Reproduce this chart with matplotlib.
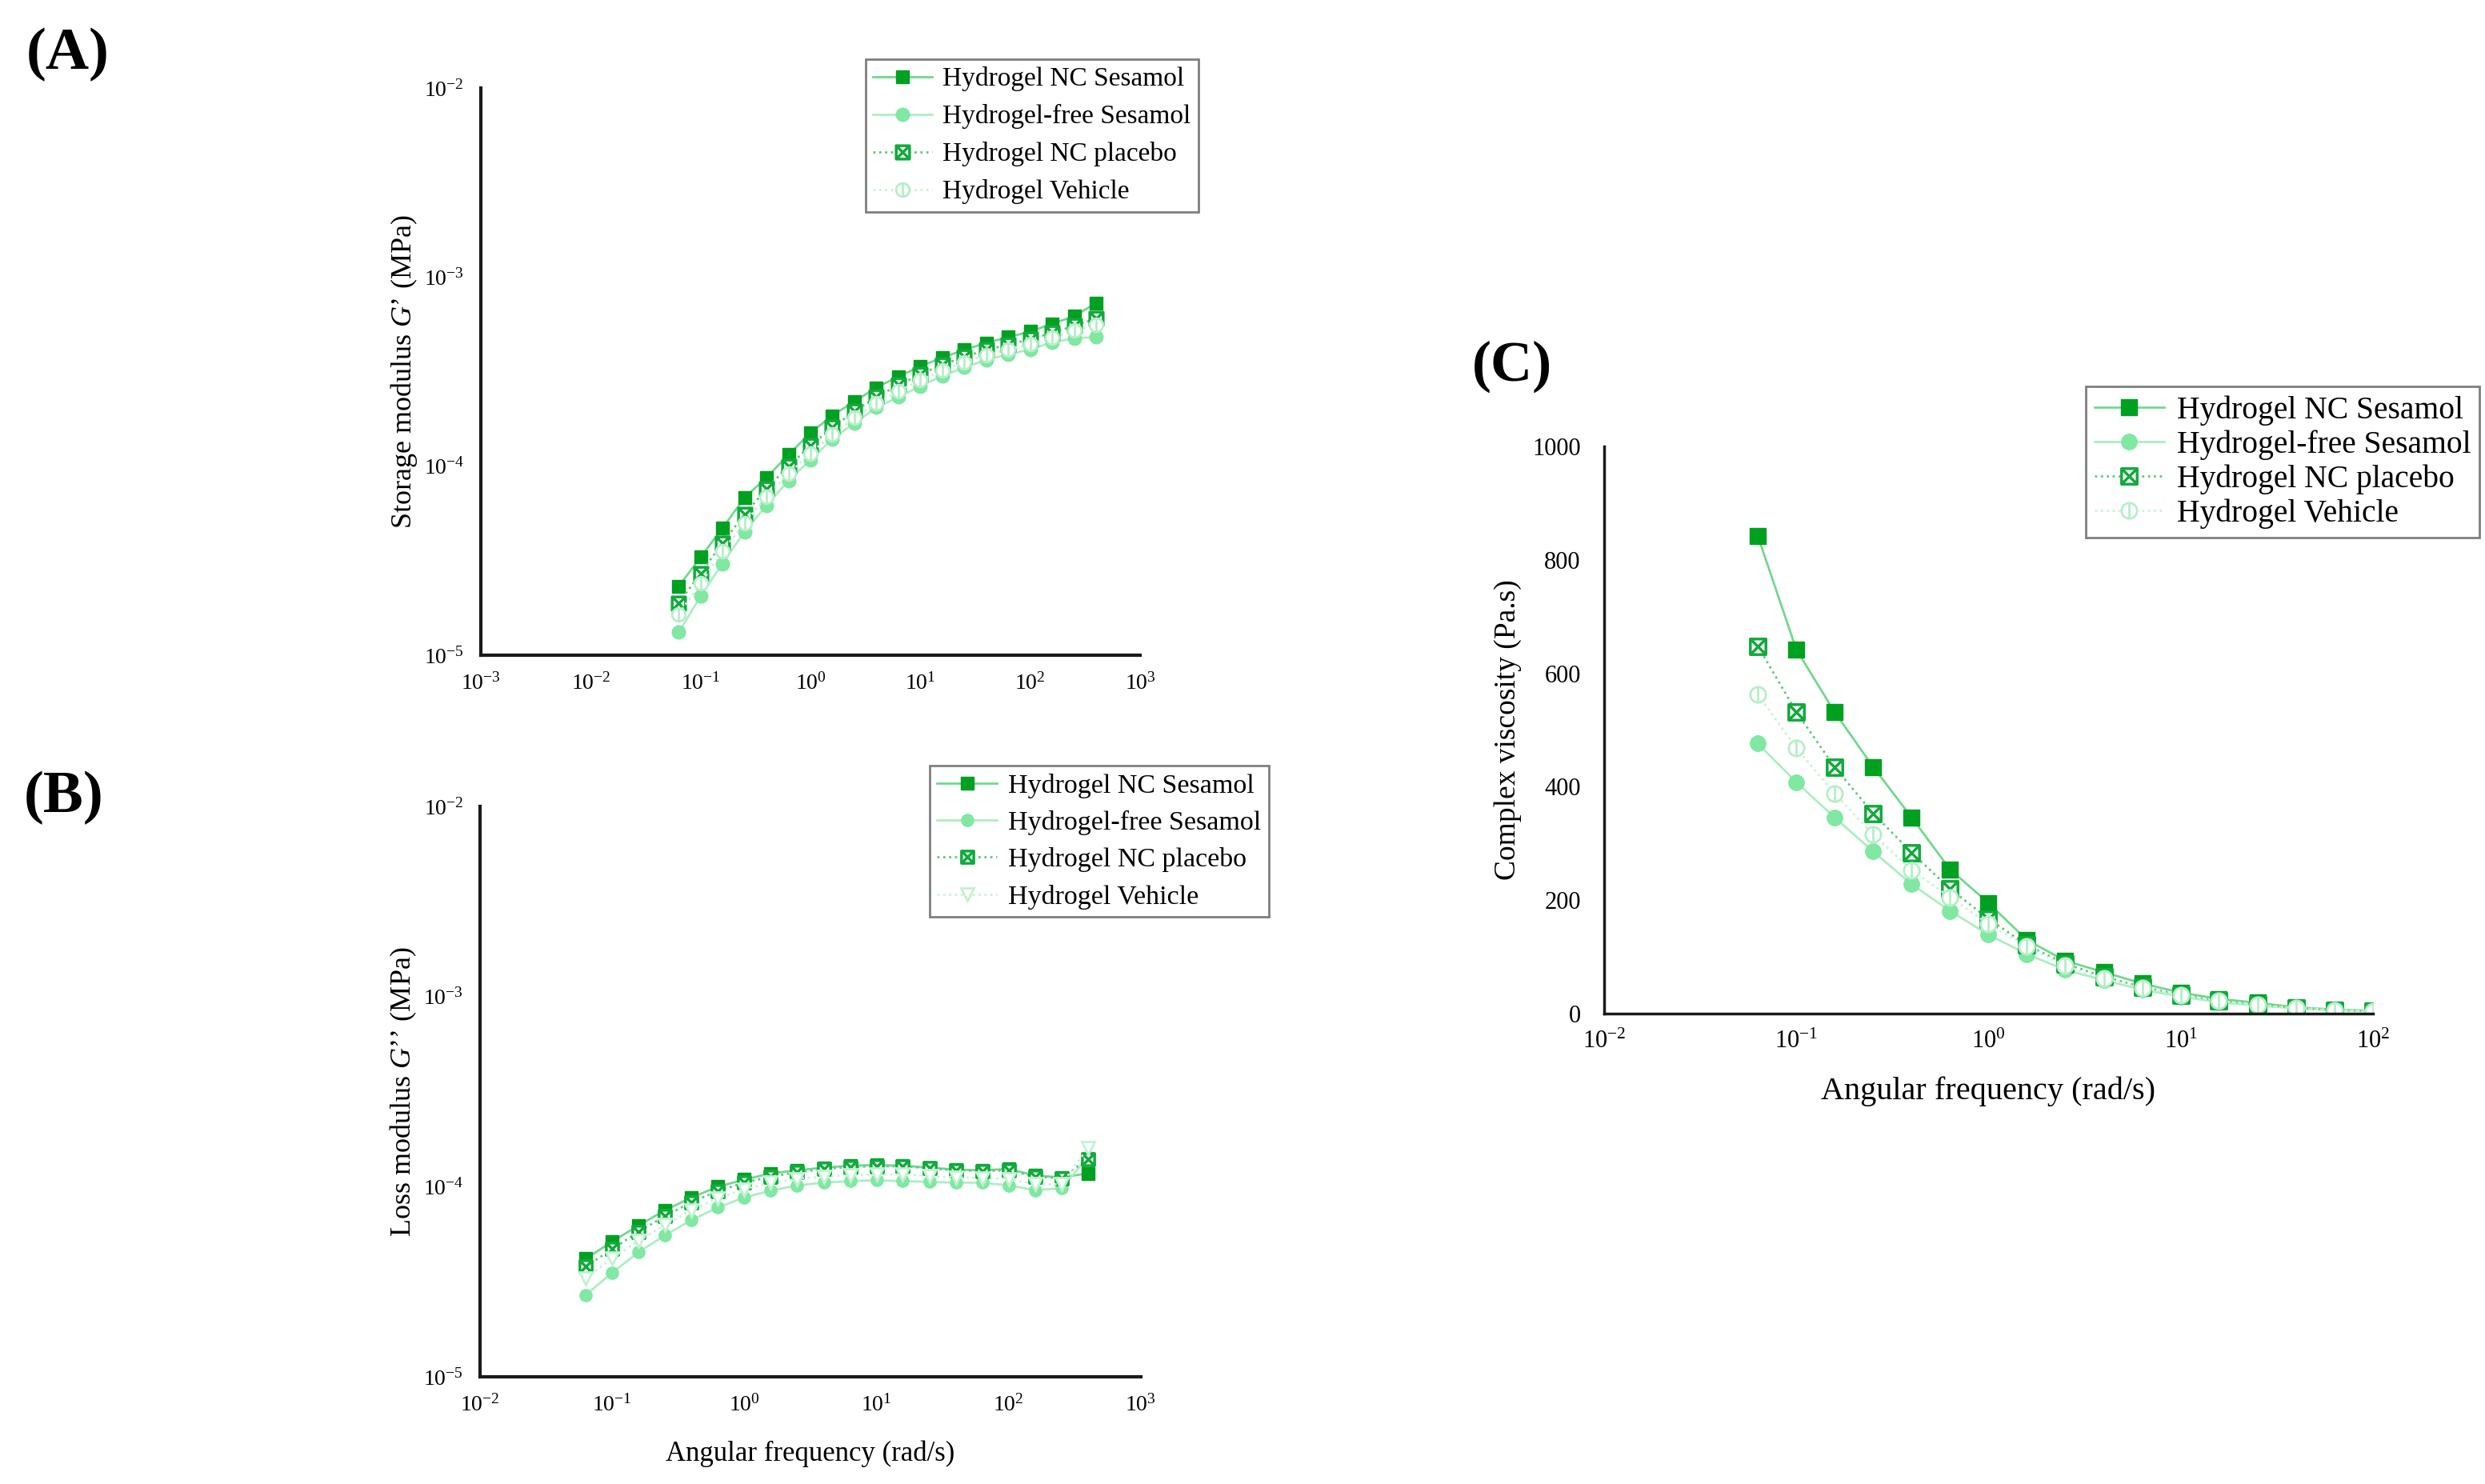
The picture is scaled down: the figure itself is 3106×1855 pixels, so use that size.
import numpy as np
import matplotlib
matplotlib.use("Agg")
import matplotlib.pyplot as plt
from matplotlib.path import Path
from matplotlib.ticker import LogLocator, LogFormatterMathtext, NullLocator

plt.rcParams['font.family'] = ['Liberation Serif', 'DejaVu Serif']
plt.rcParams['mathtext.fontset'] = 'custom'
plt.rcParams['mathtext.rm'] = 'Liberation Serif'
plt.rcParams['mathtext.it'] = 'Liberation Serif:italic'

# frequencies (rad/s)
freq = [0.0631, 0.1, 0.158, 0.251, 0.398, 0.631, 1.0, 1.58, 2.51, 3.98,
        6.31, 10, 15.8, 25.1, 39.8, 63.1, 100, 158, 251, 398]
freq_c = freq[:17]

labels = ["Hydrogel NC Sesamol", "Hydrogel-free Sesamol",
          "Hydrogel NC placebo", "Hydrogel Vehicle"]

# (A) storage modulus G' (MPa)
g1_nc = [2.31e-5, 3.3e-5, 4.7e-5, 6.8e-5, 8.7e-5, 1.15e-4, 1.5e-4, 1.85e-4, 2.2e-4, 2.6e-4,
         2.98e-4, 3.37e-4, 3.75e-4, 4.12e-4, 4.49e-4, 4.81e-4, 5.15e-4, 5.67e-4, 6.2e-4, 7.3e-4]
g1_free = [1.32e-5, 2.05e-5, 3.05e-5, 4.5e-5, 6.2e-5, 8.4e-5, 1.08e-4, 1.39e-4, 1.69e-4, 2.04e-4,
           2.32e-4, 2.65e-4, 3.0e-4, 3.32e-4, 3.65e-4, 3.89e-4, 4.15e-4, 4.51e-4, 4.75e-4, 4.81e-4]
g1_plac = [1.89e-5, 2.71e-5, 3.93e-5, 5.55e-5, 7.6e-5, 1.0e-4, 1.28e-4, 1.6e-4, 1.95e-4, 2.32e-4,
           2.68e-4, 3.06e-4, 3.43e-4, 3.79e-4, 4.12e-4, 4.39e-4, 4.69e-4, 5.07e-4, 5.52e-4, 6.04e-4]
g1_veh = [1.65e-5, 2.4e-5, 3.55e-5, 5.0e-5, 6.9e-5, 9.1e-5, 1.17e-4, 1.47e-4, 1.8e-4, 2.15e-4,
          2.49e-4, 2.85e-4, 3.2e-4, 3.55e-4, 3.87e-4, 4.14e-4, 4.42e-4, 4.78e-4, 5.2e-4, 5.6e-4]

# (B) loss modulus G'' (MPa)
g2_nc = [4.18e-5, 5.15e-5, 6.25e-5, 7.52e-5, 8.78e-5, 1.0e-4, 1.09e-4, 1.175e-4, 1.22e-4, 1.26e-4,
         1.29e-4, 1.3e-4, 1.29e-4, 1.26e-4, 1.23e-4, 1.22e-4, 1.24e-4, 1.145e-4, 1.12e-4, 1.175e-4]
g2_free = [2.7e-5, 3.53e-5, 4.53e-5, 5.55e-5, 6.68e-5, 7.78e-5, 8.78e-5, 9.53e-5, 1.016e-4, 1.05e-4,
           1.07e-4, 1.08e-4, 1.07e-4, 1.06e-4, 1.05e-4, 1.05e-4, 1.016e-4, 9.6e-5, 9.8e-5, 1.43e-4]
g2_plac = [3.8e-5, 4.7e-5, 5.8e-5, 7.0e-5, 8.3e-5, 9.5e-5, 1.05e-4, 1.13e-4, 1.19e-4, 1.24e-4,
           1.27e-4, 1.28e-4, 1.28e-4, 1.25e-4, 1.22e-4, 1.21e-4, 1.22e-4, 1.13e-4, 1.11e-4, 1.4e-4]
g2_veh = [3.3e-5, 4.2e-5, 5.2e-5, 6.3e-5, 7.5e-5, 8.7e-5, 9.7e-5, 1.05e-4, 1.1e-4, 1.13e-4,
          1.15e-4, 1.16e-4, 1.16e-4, 1.14e-4, 1.12e-4, 1.11e-4, 1.1e-4, 1.03e-4, 1.03e-4, 1.6e-4]

# (C) complex viscosity (Pa.s)
eta_nc = [842, 642, 532, 435, 346, 254, 195, 130, 93, 73, 53, 37, 26, 19, 11, 7, 5]
eta_free = [476, 408, 346, 286, 228, 181, 139, 105, 77, 59, 42, 30, 20, 14, 9, 6, 4]
eta_plac = [648, 532, 435, 353, 284, 220, 167, 121, 88, 65, 47, 33, 23, 16, 10, 6, 4]
eta_veh = [563, 468, 388, 316, 253, 205, 158, 118, 84, 62, 45, 32, 22, 15, 10, 6, 4]

# marker shapes
cross_box = Path([[-1, -1], [1, -1], [1, 1], [-1, 1], [-1, -1],
                  [-1, -1], [1, 1], [-1, 1], [1, -1]],
                 [Path.MOVETO, Path.LINETO, Path.LINETO, Path.LINETO, Path.CLOSEPOLY,
                  Path.MOVETO, Path.LINETO, Path.MOVETO, Path.LINETO])
bar_circle = Path.make_compound_path(Path.unit_circle(),
                                     Path([[0, -1], [0, 1]], [Path.MOVETO, Path.LINETO]))

styles = [
    dict(color='#72D88E', ls='-', marker='s', mfc='#00A020', mec='#00A020', mew=1),
    dict(color='#ABEFC2', ls='-', marker='o', mfc='#80E8A2', mec='#80E8A2', mew=1),
    dict(color='#5ECB7C', ls=':', marker=cross_box, mfc='white', mec='#12AA3C', mew=2.5),
    dict(color='#C6F4D4', ls=':', marker=bar_circle, mfc='white', mec='#B6EEC8', mew=2),
]

fig = plt.figure(figsize=(31.06, 18.55), dpi=100)

axA = fig.add_axes([0.1935, 0.5585, 0.2653, 0.3822])
axB = fig.add_axes([0.1932, 0.0722, 0.2659, 0.3844])
axC = fig.add_axes([0.6455, 0.3170, 0.3094, 0.3822])


def style_axis(ax, lw, tsize, xpad, ypad):
    for s in ['top', 'right']:
        ax.spines[s].set_visible(False)
    for s in ['left', 'bottom']:
        ax.spines[s].set_linewidth(lw)
        ax.spines[s].set_color('#1a1a1a')
    ax.tick_params(axis='x', length=0, labelsize=tsize, pad=xpad)
    ax.tick_params(axis='y', length=0, labelsize=tsize, pad=ypad)


def draw(ax, x, series, msize, lw, b_panel=False):
    handles = []
    for i, (y, st) in enumerate(zip(series, styles)):
        st = dict(st)
        if b_panel and i == 3:
            st['marker'] = 'v'
            st['mec'] = '#C2F2D1'
        h, = ax.plot(x, y, linestyle=st['ls'], color=st['color'], lw=lw,
                     marker=st['marker'], ms=msize, mfc=st['mfc'], mec=st['mec'],
                     mew=st['mew'], label=labels[i])
        handles.append(h)
    return handles


def legend(ax, pos, size, spacing):
    leg = ax.legend(loc='upper left', bbox_to_anchor=pos, bbox_transform=fig.transFigure,
                    fontsize=size, frameon=True, fancybox=False, framealpha=1,
                    edgecolor='#7f7f7f', borderpad=0.28, labelspacing=spacing,
                    handlelength=2.2, handletextpad=0.4, borderaxespad=0)
    leg.get_frame().set_linewidth(2)


# (A)
draw(axA, freq, [g1_nc, g1_free, g1_plac, g1_veh], 12, 2.0)
axA.set_xscale('log')
axA.set_yscale('log')
axA.set_xlim(1e-3, 1e3)
axA.set_ylim(1e-5, 1e-2)
style_axis(axA, 3, 20, 16, 15)
axA.set_ylabel('Storage modulus $\\mathit{G}$’ (MPa)', fontsize=26)
axA.yaxis.set_label_coords(-0.093, 0.5)
legend(axA, (0.3484, 0.9601), 24, 0.48)

# (B)
draw(axB, freq, [g2_nc, g2_free, g2_plac, g2_veh], 11, 2.0, b_panel=True)
axB.set_xscale('log')
axB.set_yscale('log')
axB.set_xlim(1e-2, 1e3)
axB.set_ylim(1e-5, 1e-2)
style_axis(axB, 3, 20, 16, 15)
axB.set_ylabel('Loss modulus $\\mathit{G}$’’ (MPa)', fontsize=26)
axB.yaxis.set_label_coords(-0.093, 0.5)
axB.set_xlabel('Angular frequency (rad/s)', fontsize=25)
axB.xaxis.set_label_coords(0.5, -0.112)
legend(axB, (0.3741, 0.4841), 24.5, 0.45)

for ax in (axA, axB):
    ax.xaxis.set_major_locator(LogLocator(base=10, numticks=20))
    ax.yaxis.set_major_locator(LogLocator(base=10, numticks=20))
    ax.xaxis.set_major_formatter(LogFormatterMathtext())
    ax.yaxis.set_major_formatter(LogFormatterMathtext())
    ax.xaxis.set_minor_locator(NullLocator())
    ax.yaxis.set_minor_locator(NullLocator())

# (C)
draw(axC, freq_c, [eta_nc, eta_free, eta_plac, eta_veh], 14, 2.0)
axC.set_xscale('log')
axC.set_xlim(1e-2, 1e2)
axC.set_ylim(0, 1000)
axC.set_yticks([0, 200, 400, 600, 800, 1000])
axC.xaxis.set_major_locator(LogLocator(base=10, numticks=20))
axC.xaxis.set_major_formatter(LogFormatterMathtext())
axC.xaxis.set_minor_locator(NullLocator())
style_axis(axC, 2.5, 22, 15, 21)
axC.set_ylabel('Complex viscosity (Pa.s)', fontsize=27)
axC.yaxis.set_label_coords(-0.107, 0.5)
axC.set_xlabel('Angular frequency (rad/s)', fontsize=29)
axC.xaxis.set_label_coords(0.5, -0.111)
legend(axC, (0.8393, 0.7396), 28.5, 0.14)

# panel letters
fig.text(0.0106, 0.9633, '(A)', fontsize=54, fontweight='bold', va='center')
fig.text(0.0097, 0.4625, '(B)', fontsize=54, fontweight='bold', va='center')
fig.text(0.5924, 0.7531, '(C)', fontsize=52, fontweight='bold', va='center')

fig.savefig('out.png', dpi=100)
